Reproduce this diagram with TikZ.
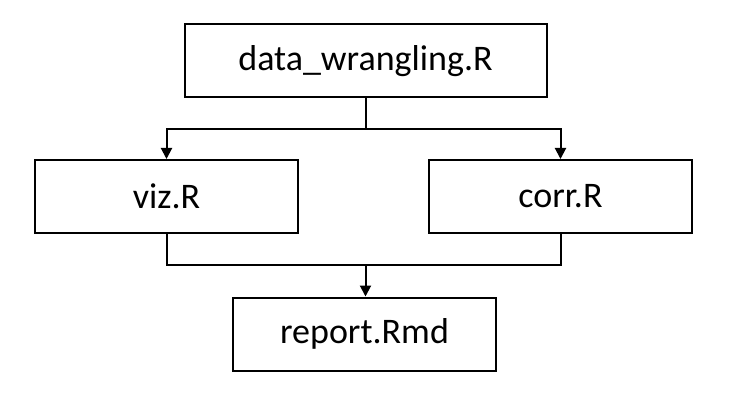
\documentclass[tikz,border=0pt]{standalone}
\usepackage{fontspec}
\setmainfont{Carlito}
\usetikzlibrary{arrows.meta}
\begin{document}
\begin{tikzpicture}[x=1pt,y=-1pt,
  box/.style={draw=black,line width=2pt,inner sep=0pt,font=\fontsize{36}{40}\selectfont},
  conn/.style={draw=black,line width=2pt},
  arr/.style={conn,-{Triangle[width=11pt,length=11pt]}}]
\useasboundingbox (0,0) rectangle (734,401);
\node[box,minimum width=362pt,minimum height=73pt] (top) at (365.5,61) {data\_wrangling.R};
\node[box,minimum width=263pt,minimum height=73pt] (viz) at (166.5,196.5) {viz.R};
\node[box,minimum width=263pt,minimum height=73pt] (corr) at (560.5,196.5) {corr.R};
\node[box,minimum width=263pt,minimum height=73pt] (rep) at (364.5,334) {report.Rmd};
\coordinate (s1) at (365.5,129);
\coordinate (s2) at (365.5,265);
\draw[conn] (top.south) -- (s1);
\draw[arr] (s1) -| (viz.north);
\draw[arr] (s1) -| (corr.north);
\draw[conn] (viz.south) |- (s2);
\draw[conn] (corr.south) |- (s2);
\draw[arr] (s2) -- (s2 |- rep.north);
\end{tikzpicture}
\end{document}
